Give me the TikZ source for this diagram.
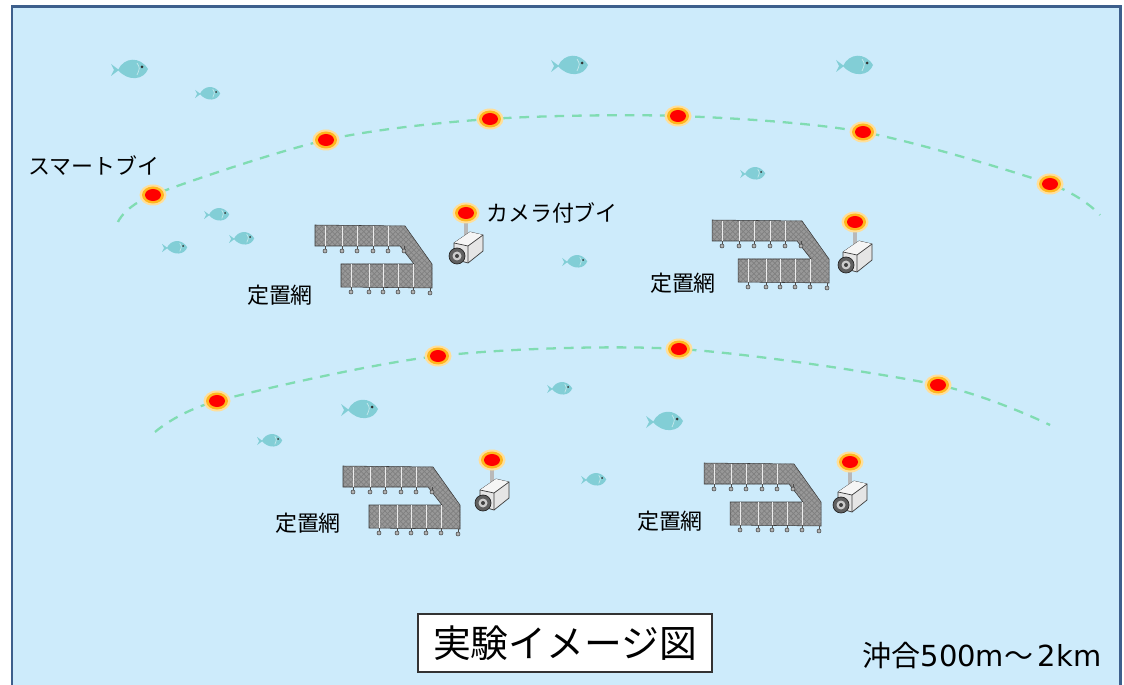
\documentclass[tikz,border=0pt]{standalone}
\usepackage{fontspec}
\setmainfont{Noto Sans CJK JP}
\newfontfamily\latinfont{DejaVu Sans}
\usetikzlibrary{patterns}
\definecolor{sea}{RGB}{205,235,251}
\definecolor{border}{RGB}{61,95,140}
\definecolor{rope}{RGB}{128,220,178}
\definecolor{glow}{RGB}{255,183,30}
\definecolor{fishbody}{RGB}{130,206,214}
\definecolor{netgray}{RGB}{152,152,152}
\definecolor{netdark}{RGB}{128,128,128}

\tikzset{
  lbl/.style={font=\fontsize{12.5}{14}\selectfont, inner sep=0pt},
  ropeline/.style={rope, line width=1.3pt, dash pattern=on 5.5pt off 4.5pt},
  buoy/.pic={
    \fill[glow!45] (0,0) ellipse (13.5 and 10.5);
    \fill[glow] (0,0) ellipse (11 and 8.5);
    \fill[red] (0,0) ellipse (8 and 6);
  },
  fish/.pic={
    \fill[fishbody] (-12,0) .. controls (-6,-13) and (10,-14) .. (18,-1)
      .. controls (14,10) and (-2,12) .. (-12,0) -- cycle;
    \fill[fishbody] (-11,0) -- (-19,-6) -- (-16,0) -- (-19,6) -- cycle;
    \draw[fishbody!45!white, line width=0.4pt] (7,-7) .. controls (10,-2) .. (7,5);
    \fill[black!80] (12,-3) circle (1.5);
  },
  fixednet/.pic={
    \filldraw[preaction={fill=netgray}, pattern=crosshatch, pattern color=netdark,
      draw=gray!45!black, line width=0.3pt]
      (0,0) -- (90,1) -- (117,39) -- (117,63) -- (26,62) -- (26,39)
      -- (99,39) -- (85,21) -- (0,21) -- cycle;
    % floats on the panels
    \draw[white!85!gray, line width=0.5pt] (10,1) -- (10,21) (27,1) -- (27,21) (42,1) -- (42,21)
      (58,1) -- (58,21) (73,1) -- (73,21)
      (36,39) -- (36,62) (54,39) -- (54,62) (68,39) -- (68,62) (83,39) -- (83,62)
      (98,39) -- (98,62);
    % sinkers
    \draw[gray!60!black, line width=0.3pt] (10,21) -- (10,24) (27,21) -- (27,24)
      (42,21) -- (42,24) (58,21) -- (58,24) (73,21) -- (73,24) (89,21) -- (89,24)
      (36,62) -- (36,65) (54,62) -- (54,65) (68,62) -- (68,65) (83,62) -- (83,65)
      (98,62) -- (98,65) (115,63) -- (115,66);
    \filldraw[fill=gray!60, draw=gray!50!black, line width=0.3pt]
      (10,26) circle (2) (27,26) circle (2) (42,26) circle (2) (58,26) circle (2)
      (73,26) circle (2) (89,26) circle (2)
      (36,67) circle (2) (54,67) circle (2) (68,67) circle (2) (83,67) circle (2)
      (98,67) circle (2) (115,68) circle (2);
  },
  cambuoy/.pic={
    \fill[gray!55] (-1.8,6) rectangle (1.8,22);
    \pic {buoy};
    % camera body
    \filldraw[fill=gray!20, draw=gray!45!black, line width=0.4pt]
      (-12,30) -- (4,19) -- (17,22) -- (17,38) -- (2,50) -- (-12,46) -- cycle;
    \fill[gray!8] (-12,30) -- (4,19) -- (17,22) -- (2,33) -- cycle;
    \draw[gray!45!black, line width=0.4pt] (-12,30) -- (2,33) -- (17,22) (2,33) -- (2,50);
    \filldraw[fill=gray!75!black, draw=gray!30!black, line width=0.4pt] (-9,43) circle (8);
    \fill[gray!40] (-9,43) circle (4.5);
    \fill[black!75] (-9,43) circle (2);
  }
}

\begin{document}
\begin{tikzpicture}[x=0.02cm, y=-0.02cm]
\useasboundingbox (0,0) rectangle (1124,685);
\fill[white] (0,0) rectangle (1124,685);
\fill[sea] (12,7) rectangle (1120,685);

% ropes of smart buoys
\draw[ropeline] plot[smooth] coordinates {(118,222) (153,195) (326,140) (490,119)
  (678,116) (863,132) (1050,184) (1100,215)};
\draw[ropeline] plot[smooth] coordinates {(155,432) (217,401) (438,356) (679,349)
  (938,385) (1050,425)};

\pic at (153,195) {buoy};
\pic at (326,140) {buoy};
\pic at (490,119) {buoy};
\pic at (678,116) {buoy};
\pic at (863,132) {buoy};
\pic at (1050,184) {buoy};
\pic at (217,401) {buoy};
\pic at (438,356) {buoy};
\pic at (679,349) {buoy};
\pic at (938,385) {buoy};

% fish
\pic at (130,70) {fish};
\pic at (570,66) {fish};
\pic at (855,66) {fish};
\pic at (360,410) {fish};
\pic at (665,422) {fish};
\pic[scale=0.68] at (208,94) {fish};
\pic[scale=0.68] at (217,215) {fish};
\pic[scale=0.68] at (175,248) {fish};
\pic[scale=0.68] at (242,239) {fish};
\pic[scale=0.68] at (575,262) {fish};
\pic[scale=0.68] at (753,174) {fish};
\pic[scale=0.68] at (560,389) {fish};
\pic[scale=0.68] at (270,441) {fish};
\pic[scale=0.68] at (594,480) {fish};

% set nets with camera buoys
\pic at (315,225) {fixednet};
\pic at (712,220) {fixednet};
\pic at (343,466) {fixednet};
\pic at (704,463) {fixednet};
\pic at (466,213) {cambuoy};
\pic at (855,222) {cambuoy};
\pic at (492,460) {cambuoy};
\pic at (850,462) {cambuoy};

\node[lbl] (smartlbl) at (94,166) {スマートブイ};
\node[lbl] (camlbl) at (552,213) {カメラ付ブイ};
\node[lbl] (netlbla) at (280,295) {定置網};
\node[lbl] (netlblb) at (683,283) {定置網};
\node[lbl] (netlblc) at (308,523) {定置網};
\node[lbl] (netlbld) at (670,521) {定置網};

\node[draw=black!80, line width=1pt, fill=white, minimum width=5.88cm, minimum height=1.16cm,
  font=\fontsize{21.5}{24}\selectfont] (title) at (565,643) {実験イメージ図};
\node[lbl, font=\fontsize{16.5}{18}\selectfont] (offshore) at (982,656)
  {沖合{\latinfont 500m}〜\,{\latinfont 2km}};

% outer frame
\draw[border, line width=1.7pt] (12,700) -- (12,7) -- (1120,7) -- (1120,700);
\end{tikzpicture}
\end{document}
